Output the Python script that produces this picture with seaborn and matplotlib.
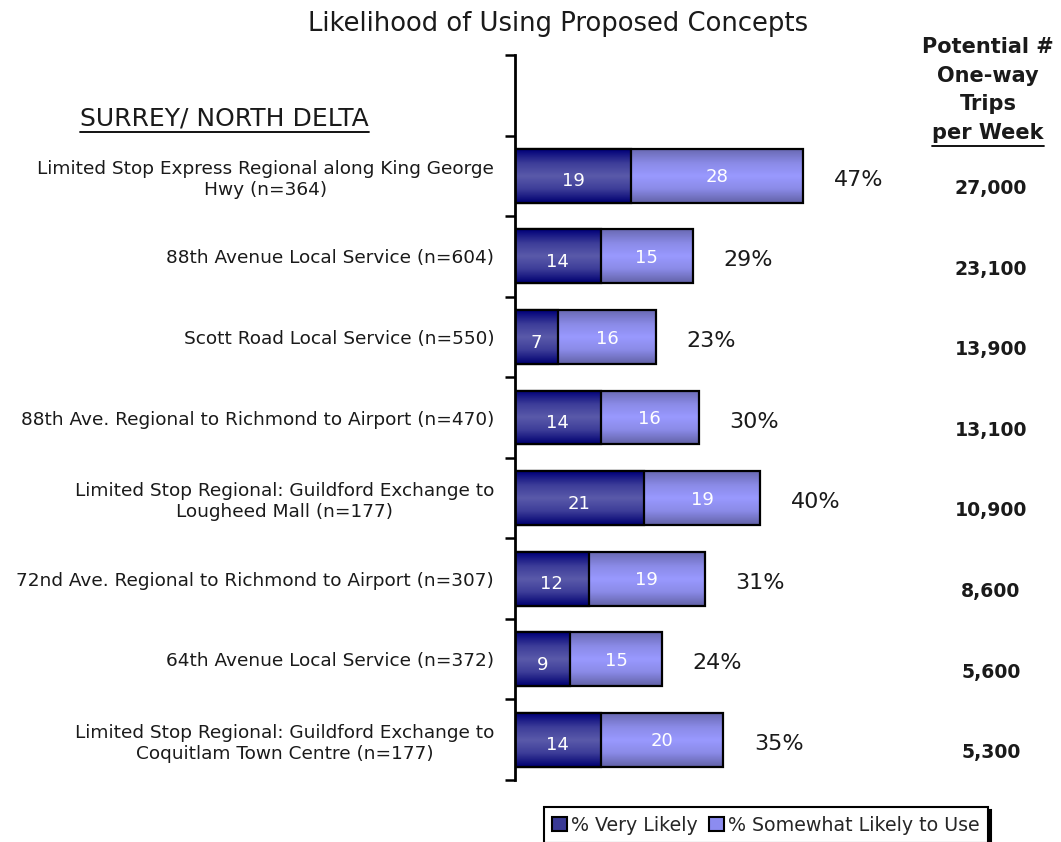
import numpy as np
import pandas as pd
import matplotlib
matplotlib.use("Agg")
import matplotlib.pyplot as plt
import matplotlib.transforms as mtransforms
import seaborn as sns
from matplotlib.colors import LinearSegmentedColormap
from matplotlib.patches import Patch
from matplotlib.lines import Line2D

# ---- data -------------------------------------------------------------
concepts = [
    "Limited Stop Express Regional along King George\nHwy (n=364)",
    "88th Avenue Local Service (n=604)",
    "Scott Road Local Service (n=550)",
    "88th Ave. Regional to Richmond to Airport (n=470)",
    "Limited Stop Regional: Guildford Exchange to\nLougheed Mall (n=177)",
    "72nd Ave. Regional to Richmond to Airport (n=307)",
    "64th Avenue Local Service (n=372)",
    "Limited Stop Regional: Guildford Exchange to\nCoquitlam Town Centre (n=177)",
]
very_likely = [19, 14, 7, 14, 21, 12, 9, 14]
somewhat_likely = [28, 15, 16, 16, 19, 19, 15, 20]
total_likely = [47, 29, 23, 30, 40, 31, 24, 35]
weekly_trips = ["27,000", "23,100", "13,900", "13,100", "10,900", "8,600", "5,600", "5,300"]

series_names = ["% Very Likely", "% Somewhat Likely to Use"]
title = "Likelihood of Using Proposed Concepts"
region = "SURREY/ NORTH DELTA"
trips_header = ["Potential #", "One-way", "Trips", "per Week"]

# ---- style ------------------------------------------------------------
DARK = "#3a3a96"
LIGHT = "#8c8cf0"
dark_cmap = LinearSegmentedColormap.from_list(
    "dark", ["#000078", "#3c3c98", "#5a5aaa", "#3c3c98", "#000070"])
light_cmap = LinearSegmentedColormap.from_list(
    "light", ["#6a6ab4", "#8a8ae6", "#9999ff", "#8a8ae6", "#6262a8"])
TXT = "#1a1a1a"

sns.set_theme(style="white")
plt.rcParams["font.family"] = ["DejaVu Sans"]

df = pd.DataFrame({"concept": concepts,
                   "very": very_likely,
                   "somewhat": somewhat_likely})
df["combined"] = df["very"] + df["somewhat"]

fig = plt.figure(figsize=(10.61, 8.42), dpi=100)
ax = fig.add_axes([0.4854, 0.0736, 0.42, 0.8611])

# full stacked length first, then the "very likely" part drawn over it
sns.barplot(data=df, x="combined", y="concept", order=concepts, orient="h",
            color=LIGHT, saturation=1, width=0.67, edgecolor="black",
            linewidth=1.6, ax=ax)
n_light = len(ax.patches)
sns.barplot(data=df, x="very", y="concept", order=concepts, orient="h",
            color=DARK, saturation=1, width=0.67, edgecolor="black",
            linewidth=1.6, ax=ax)

# shaded fill for each bar segment
grad = np.linspace(0, 1, 64).reshape(-1, 1)
for k, p in enumerate(ax.patches):
    cmap = light_cmap if k < n_light else dark_cmap
    base = 1.0 if k < n_light else 1.2
    x0, y0, w, h = p.get_x(), p.get_y(), p.get_width(), p.get_height()
    p.set_facecolor("none")
    p.set_zorder(base + 0.1)
    ax.imshow(grad, cmap=cmap, aspect="auto", interpolation="bicubic",
              extent=[x0, x0 + w, y0 + h, y0], zorder=base, origin="upper")

ax.set_xlim(0, 72.7)
ax.set_ylim(len(concepts) - 0.5, -1.5)
ax.set_xlabel("")
ax.set_ylabel("")

for side in ["top", "right", "bottom"]:
    ax.spines[side].set_visible(False)
ax.spines["left"].set_linewidth(2)
ax.spines["left"].set_color("black")
ax.set_xticks([])

ax.set_yticks(range(len(concepts)))
ax.set_yticklabels(concepts)
ax.set_yticks(np.arange(-1.5, len(concepts), 1.0), minor=True)
ax.tick_params(axis="y", which="major", length=0, pad=15, labelsize=13.3,
               labelcolor=TXT)
ax.tick_params(axis="y", which="minor", left=True, length=7, width=1.8,
               direction="out", color="black")
for lbl in ax.get_yticklabels():
    lbl.set_multialignment("center")

# segment values and totals
for i in range(len(concepts)):
    v, s = very_likely[i], somewhat_likely[i]
    ax.text(v / 2, i + 0.07, str(v), ha="center", va="center",
            color="white", fontsize=13, zorder=5)
    ax.text(v + s / 2, i + 0.02, str(s), ha="center", va="center",
            color="white", fontsize=13, zorder=5)
    ax.text(v + s + 9, i + 0.05, f"{total_likely[i]}%", ha="center",
            va="center", color=TXT, fontsize=16, zorder=5)

# trips per week column
trans = mtransforms.blended_transform_factory(fig.transFigure, ax.transData)
for i, t in enumerate(weekly_trips):
    ax.text(991 / 1061, i + 0.16, t, transform=trans, ha="center",
            va="center", fontsize=13.6, fontweight="bold", color=TXT)

fig.text(558 / 1061, 1 - 24 / 842, title, ha="center", va="center",
         fontsize=18.6, color=TXT)

header_y = [47, 76, 104, 133]
header_txt = []
for txt, yy in zip(trips_header, header_y):
    header_txt.append(fig.text(988 / 1061, 1 - yy / 842, txt, ha="center",
                               va="center", fontsize=15, fontweight="bold",
                               color=TXT))

region_txt = fig.text(80 / 1061, 1 - 119 / 842, region, ha="left",
                      va="center", fontsize=18, color=TXT)

# legend
handles = [Patch(facecolor=DARK, edgecolor="black", linewidth=1.5),
           Patch(facecolor=LIGHT, edgecolor="black", linewidth=1.5)]
leg = fig.legend(handles, series_names, loc="upper center",
                 bbox_to_anchor=(766 / 1061, 1 - 807 / 842), ncol=2,
                 frameon=True, fancybox=False,
                 shadow={"color": "black", "alpha": 1},
                 edgecolor="black", handlelength=0.8, handleheight=0.8,
                 handletextpad=0.2, columnspacing=0.6, borderaxespad=0,
                 fontsize=13.7, borderpad=0.45)
leg.get_frame().set_linewidth(1.5)

# underline the region name and the last header line
fig.canvas.draw()
renderer = fig.canvas.get_renderer()
inv = fig.transFigure.inverted()
for t, gap in ((region_txt, 0.001), (header_txt[-1], 0.003)):
    bb = t.get_window_extent(renderer)
    (x0, y0), (x1, _) = inv.transform([[bb.x0, bb.y0], [bb.x1, bb.y1]])
    fig.add_artist(Line2D([x0, x1], [y0 - gap, y0 - gap],
                          transform=fig.transFigure, color="black", lw=1.3))

fig.savefig("out.png", dpi=100)
